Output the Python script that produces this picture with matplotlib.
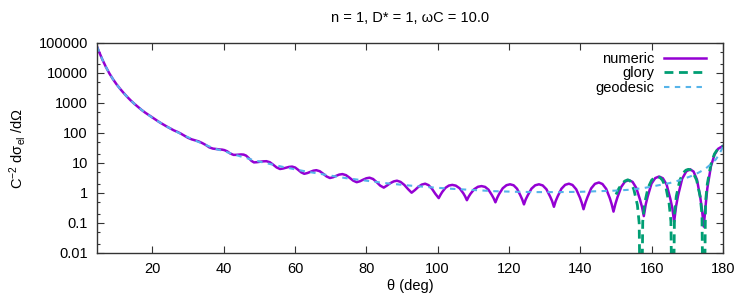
import matplotlib
matplotlib.use("Agg")
import matplotlib.pyplot as plt
import numpy as np

# ---------------- data ----------------
numeric_theta = [4.5, 5, 6, 7, 8, 9, 10, 11, 12, 13, 14, 15, 16, 17, 18, 19, 20, 21, 22, 23, 24, 25,
                 26, 27, 28, 29, 30, 31, 32, 33, 34, 35, 36, 37, 38, 39, 39.6, 40.2, 41.0, 41.8, 42.8,
                 43.5, 44.2, 44.9, 45.6, 46.3, 47.05, 47.8, 48.5, 49.4, 50.25, 51.1, 52.0, 52.95, 53.9,
                 54.85, 55.8, 56.65, 57.5, 58.35, 59.2, 60.05, 60.9, 61.75, 62.6, 63.45, 64.3, 65.15,
                 66.0, 66.95, 67.9, 68.85, 69.8, 70.7, 71.55, 72.4, 73.3, 74.3, 75.3, 76.3, 77.3, 78.2,
                 79.1, 80.0, 80.9, 81.9, 82.9, 83.9, 84.9, 85.8, 86.75, 87.7, 88.6, 89.6, 90.65, 91.7,
                 92.7, 93.65, 94.6, 95.55, 96.5, 97.45, 98.4, 99.35, 100.3, 100.8, 101.25, 102.2,
                 103.15, 104.1, 105.1, 106.15, 107.2, 107.7, 108.2, 108.7, 109.2, 110.25, 111.3, 112.3,
                 113.3, 114.25, 115.2, 115.7, 116.2, 116.7, 117.2, 118.25, 119.3, 120.3, 121.3, 122.25,
                 123.2, 123.7, 124.2, 124.7, 125.25, 126.3, 127.35, 128.4, 129.45, 130.5, 131.55, 132.1,
                 132.6, 133.1, 133.65, 134.7, 135.75, 136.8, 137.8, 138.85, 139.9, 140.4, 140.9, 141.45,
                 142.0, 143.05, 144.1, 145.2, 146.2, 147.25, 148.3, 148.8, 149.3, 149.85, 150.4, 151.45,
                 152.5, 153.6, 154.65, 155.7, 156.75, 157.3, 157.8, 158.35, 158.9, 159.95, 161.0, 162.1,
                 163.15, 164.2, 165.25, 165.8, 166.3, 166.85, 167.4, 168.55, 169.7, 170.8, 171.75,
                 172.7, 173.65, 174.1, 174.6, 175.1, 175.6, 176.6, 177.6, 178.6, 180.0]
numeric_log10 = [4.88, 4.73, 4.45, 4.20, 3.98, 3.79, 3.62, 3.47, 3.33, 3.20, 3.08, 2.97, 2.87, 2.77,
                 2.68, 2.60, 2.52, 2.44, 2.36, 2.29, 2.22, 2.155, 2.09, 2.04, 1.98, 1.91, 1.84, 1.79,
                 1.755, 1.72, 1.665, 1.60, 1.52, 1.48, 1.465, 1.45, 1.445, 1.43, 1.39, 1.32, 1.27,
                 1.272, 1.28, 1.285, 1.28, 1.246, 1.163, 1.072, 1.02, 1.028, 1.042, 1.055, 1.06, 1.026,
                 0.943, 0.852, 0.80, 0.816, 0.844, 0.87, 0.88, 0.849, 0.772, 0.688, 0.64, 0.664, 0.706,
                 0.744, 0.76, 0.726, 0.643, 0.552, 0.50, 0.526, 0.572, 0.613, 0.63, 0.595, 0.509,
                 0.414, 0.36, 0.39, 0.443, 0.49, 0.51, 0.467, 0.362, 0.246, 0.18, 0.249, 0.33, 0.387,
                 0.41, 0.37, 0.27, 0.13, 0.01, 0.10, 0.205, 0.28, 0.31, 0.262, 0.142, -0.026, -0.17,
                 -0.06, 0.028, 0.173, 0.248, 0.27, 0.245, 0.158, -0.01, -0.112, -0.24, -0.122, -0.028,
                 0.127, 0.207, 0.23, 0.203, 0.111, -0.067, -0.175, -0.31, -0.16, -0.04, 0.158, 0.26,
                 0.29, 0.257, 0.143, -0.08, -0.212, -0.38, -0.212, -0.08, 0.143, 0.257, 0.29, 0.253,
                 0.125, -0.122, -0.272, -0.46, -0.267, -0.113, 0.14, 0.272, 0.31, 0.268, 0.123, -0.157,
                 -0.327, -0.54, -0.317, -0.14, 0.154, 0.306, 0.35, 0.30, 0.137, -0.183, -0.377, -0.62,
                 -0.357, -0.147, 0.199, 0.378, 0.43, 0.37, 0.166, -0.23, -0.47, -0.77, -0.374, -0.11,
                 0.312, 0.497, 0.55, 0.49, 0.278, -0.205, -0.507, -0.96, -0.435, -0.085, 0.475, 0.72,
                 0.79, 0.714, 0.446, -0.165, -0.547, -1.12, -0.45, 0.15, 0.88, 1.27, 1.47, 1.57]

glory_theta = [150.0, 150.8, 151.8, 152.5, 153.3, 154.0, 155.0, 156.0, 156.5, 157.0, 157.5, 158.0,
               159.0, 160.0, 160.8, 161.6, 162.4, 163.0, 164.0, 164.9, 165.4, 165.9, 166.4, 166.9,
               167.9, 168.9, 169.6, 170.3, 171.0, 171.6, 172.6, 173.6, 174.1, 174.6, 175.1, 175.6,
               176.6, 177.6, 178.6, 180.0]
glory_log10 = [-0.05, 0.15, 0.33, 0.40, 0.44, 0.40, 0.12, -0.40, -1.00, -6.0, -0.95, -0.36,
               0.18, 0.43, 0.51, 0.54, 0.51, 0.43, 0.18, -0.36, -0.95, -6.0, -0.70, -0.11,
               0.43, 0.68, 0.76, 0.79, 0.76, 0.68, 0.43, -0.11, -0.70, -6.0, -0.30, 0.30,
               0.95, 1.30, 1.48, 1.57]

geodesic_theta = [4.5, 5, 6, 7, 8, 9, 10, 11, 12, 13, 14, 15, 16, 17, 18, 20, 22, 24, 26, 28, 30, 32,
                  34, 36, 38, 40, 42, 45, 48, 51, 54, 57, 60, 63, 66, 70, 74, 80, 86, 92, 98, 104,
                  110, 116, 122, 128, 134, 140, 145, 150, 154, 158, 162, 165, 168, 171, 173, 175,
                  176.5, 178, 179, 180]
geodesic_log10 = [4.88, 4.74, 4.45, 4.20, 3.98, 3.79, 3.62, 3.47, 3.33, 3.20, 3.08, 2.97, 2.87, 2.77,
                  2.68, 2.51, 2.36, 2.22, 2.09, 1.97, 1.86, 1.75, 1.65, 1.55, 1.46, 1.40, 1.32, 1.21,
                  1.11, 1.02, 0.94, 0.86, 0.79, 0.72, 0.66, 0.58, 0.50, 0.41, 0.32, 0.25, 0.19, 0.14,
                  0.10, 0.06, 0.04, 0.03, 0.03, 0.04, 0.06, 0.08, 0.11, 0.17, 0.26, 0.33, 0.43, 0.56,
                  0.67, 0.80, 0.95, 1.12, 1.30, 1.55]

x_ticks = [20, 40, 60, 80, 100, 120, 140, 160, 180]
y_ticks = [0.01, 0.1, 1, 10, 100, 1000, 10000, 100000]
y_tick_labels = ["0.01", "0.1", "1", "10", "100", "1000", "10000", "100000"]
series_labels = ["numeric", "glory", "geodesic"]
title_text = "n = 1, D* = 1, \u03c9C = 10.0"
xlabel_text = "\u03b8 (deg)"
ylabel_text = "C$^{-2}$ d\u03c3$_{\\mathrm{el}}$ /d\u03a9"

# ---------------- styling ----------------
plt.rcParams["font.family"] = ["Liberation Sans", "DejaVu Sans"]
plt.rcParams["mathtext.fontset"] = "custom"
plt.rcParams["mathtext.rm"] = "Liberation Sans"
plt.rcParams["mathtext.it"] = "Liberation Sans:italic"
plt.rcParams["mathtext.bf"] = "Liberation Sans:bold"
FS = 10.5

fig = plt.figure(figsize=(7.5, 3.0), dpi=100)
ax = fig.add_axes([97 / 750, 1 - 253 / 300, (723 - 97) / 750, (253 - 43) / 300])

ax.plot(numeric_theta, 10 ** np.asarray(numeric_log10), color="#9400d3", lw=1.8,
        label=series_labels[0], solid_joinstyle="round")
ax.plot(glory_theta, 10 ** np.asarray(glory_log10), color="#009e73", lw=2.0,
        dashes=(3.2, 2.0), label=series_labels[1])
ax.plot(geodesic_theta, 10 ** np.asarray(geodesic_log10), color="#56b4e9", lw=1.5,
        dashes=(2.6, 2.6), label=series_labels[2])

ax.set_yscale("log")
ax.set_xlim(4.5, 180)
ax.set_ylim(0.01, 100000)
ax.set_xticks(x_ticks)
ax.set_xticklabels([str(t) for t in x_ticks], fontsize=FS)
ax.set_yticks(y_ticks)
ax.set_yticklabels(y_tick_labels, fontsize=FS)
minors = []
for d in y_ticks[:-1]:
    minors += [2 * d, 5 * d]
ax.yaxis.set_minor_locator(matplotlib.ticker.FixedLocator(minors))
ax.yaxis.set_minor_formatter(matplotlib.ticker.NullFormatter())
ax.tick_params(which="both", direction="in", top=True, right=True, width=0.8, color="#333333")
ax.tick_params(which="major", length=5, pad=6.5)
ax.tick_params(which="minor", length=2.5)
for s in ax.spines.values():
    s.set_linewidth(1.0)
    s.set_color("#333333")

fig.text(410 / 750, 1 - 18 / 300, title_text, ha="center", va="center", fontsize=FS)
fig.text(410 / 750, 1 - 286 / 300, xlabel_text, ha="center", va="center", fontsize=FS)
fig.text(18 / 750, 1 - 148 / 300, ylabel_text, ha="center", va="center", rotation=90, fontsize=FS)

leg = ax.legend(loc="upper right", markerfirst=False, frameon=False, fontsize=FS,
                handlelength=2.9, handletextpad=0.62, labelspacing=0.05,
                borderpad=0.0, borderaxespad=0.0,
                bbox_to_anchor=((706 - 97) / 626, (253 - 51.7) / 210))

fig.savefig("out.png", dpi=100)
